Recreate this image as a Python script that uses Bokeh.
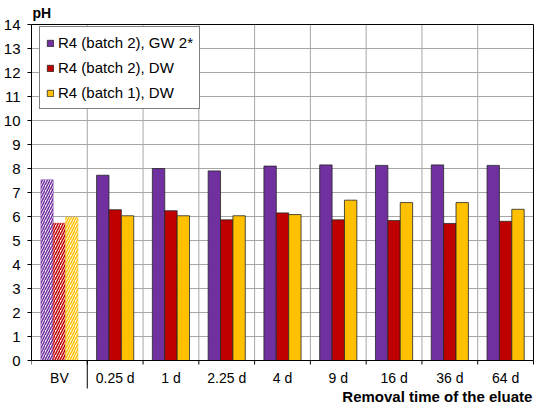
import numpy as np
from bokeh.plotting import figure
from bokeh.models import Range1d, FixedTicker, LinearAxis, Legend, LegendItem
from bokeh.embed import file_html
from bokeh.resources import INLINE
from bokeh.core.properties import value

# ---------------- data ----------------
categories = ["BV", "0.25 d", "1 d", "2.25 d", "4 d", "9 d", "16 d", "36 d", "64 d"]
gw2_batch2 = [7.53, 7.72, 8.00, 7.90, 8.10, 8.15, 8.13, 8.15, 8.13]
dw_batch2 = [5.72, 6.28, 6.24, 5.86, 6.15, 5.86, 5.83, 5.71, 5.80]
dw_batch1 = [5.97, 6.03, 6.03, 6.03, 6.08, 6.68, 6.58, 6.58, 6.30]
series_names = ["R4 (batch 2), GW 2*", "R4 (batch 2), DW", "R4 (batch 1), DW"]
series_colors = ["#7030A0", "#C00000", "#FFC000"]
y_ticks = list(range(0, 15))
y_title = "pH"
x_title = "Removal time of the eluate"

# ---------------- layout constants ----------------
FONT = "Liberation Sans"
PX_PER_Y = 24.0
n = len(categories)
ymax = y_ticks[-1]

p = figure(width=534, height=405, output_backend="svg", toolbar_location=None,
           x_range=Range1d(0, n + 0.018), y_range=Range1d(-1.875, ymax + 1.0),
           x_axis_type=None, y_axis_type=None,
           min_border=0, min_border_left=28)
p.outline_line_color = None
p.background_fill_color = "white"
p.border_fill_color = "white"

yaxis = LinearAxis(ticker=FixedTicker(ticks=y_ticks), bounds=(0, ymax))
yaxis.major_label_text_font = FONT
yaxis.major_label_text_font_size = "15px"
yaxis.major_label_text_color = "black"
yaxis.major_tick_out = 4
yaxis.major_tick_in = 0
yaxis.minor_tick_line_color = None
yaxis.axis_line_color = "black"
yaxis.major_tick_line_color = "black"
yaxis.major_label_standoff = 7
p.add_layout(yaxis, "left")

# grid lines
grid_color = "#a6a6a6"
hy = y_ticks[1:-1]
p.segment(x0=[0] * len(hy), y0=hy, x1=[n] * len(hy), y1=hy, line_color=grid_color, line_width=1)
vx = list(range(1, n))
p.segment(x0=vx, y0=[0] * len(vx), x1=vx, y1=[ymax] * len(vx), line_color=grid_color, line_width=1)

# bars
centers = np.arange(n) + 0.5
bar_w = 0.222
offsets = [-bar_w, 0.0, bar_w]
series = [gw2_batch2, dw_batch2, dw_batch1]
legend_items = []
for vals, name, col, off in zip(series, series_names, series_colors, offsets):
    xs = centers + off
    # hatched reference bar (BV)
    p.vbar(x=xs[:1], top=vals[:1], bottom=0, width=bar_w,
           fill_color="white", line_color=col, line_alpha=0.45,
           hatch_pattern="/", hatch_color=col, hatch_scale=5, hatch_weight=1.5)
    r = p.vbar(x=xs[1:], top=vals[1:], bottom=0, width=bar_w,
               fill_color=col, line_color="#262626", line_width=0.8)
    legend_items.append(LegendItem(label=name, renderers=[r]))

# plot-area frame
p.quad(left=[0], right=[n], bottom=[0], top=[ymax], fill_color=None, line_color="black", line_width=1)

# x tick marks and separator
tick_len = 4 / PX_PER_Y
tx = list(range(0, n + 1))
p.segment(x0=tx, y0=[0] * len(tx), x1=tx, y1=[-tick_len] * len(tx), line_color="black", line_width=1)
p.segment(x0=[1], y0=[0], x1=[1], y1=[-28 / PX_PER_Y], line_color="black", line_width=1)

# x tick labels
p.text(x=centers, y=[-0.73] * n, text=categories, text_font=value(FONT), text_font_size="14px",
       text_align="center", text_baseline="middle", text_color="black")

# titles
p.text(x=[0.018], y=[14.48], text=[y_title], text_font=value(FONT), text_font_size="14px",
       text_font_style="bold", text_align="left", text_baseline="middle", text_color="black")
p.text(x=[n - 0.02], y=[-1.5], text=[x_title], text_font=value(FONT), text_font_size="15px",
       text_font_style="bold", text_align="right", text_baseline="middle", text_color="black")

legend = Legend(items=legend_items, location=(8, 296))
legend.border_line_color = "black"
legend.border_line_width = 1
legend.background_fill_color = "white"
legend.background_fill_alpha = 1.0
legend.label_text_font = FONT
legend.label_text_font_size = "15px"
legend.label_text_color = "black"
legend.glyph_width = 8
legend.glyph_height = 8
legend.padding = 6
legend.spacing = 6
legend.label_standoff = 4
legend.label_height = 19
legend.margin = 0
p.add_layout(legend)

open("out.html", "w").write(file_html(p, INLINE))
